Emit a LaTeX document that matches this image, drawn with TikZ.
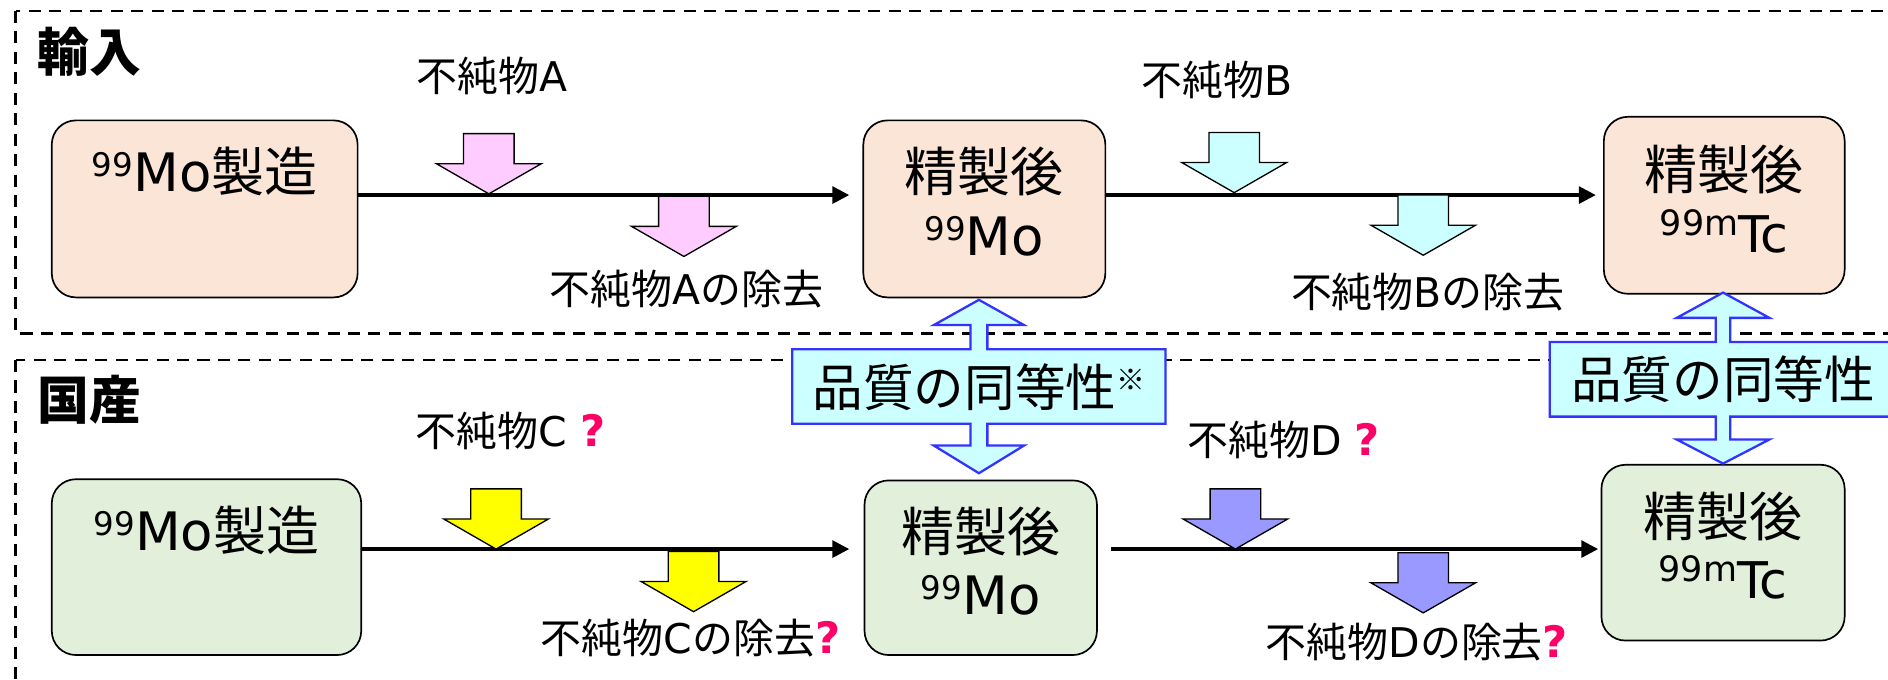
\documentclass[tikz,border=0pt]{standalone}
\usepackage{fontspec}
\setmainfont{DejaVu Sans}
\newfontfamily\cjk{Noto Sans CJK JP}
\usetikzlibrary{arrows.meta,calc}
\definecolor{peach}{HTML}{FBE5D6}
\definecolor{lgreen}{HTML}{E2EFDA}
\definecolor{apink}{HTML}{FFCCFF}
\definecolor{acyan}{HTML}{CCFFFF}
\definecolor{ayellow}{HTML}{FFFF00}
\definecolor{apurple}{HTML}{9999FF}
\definecolor{qblue}{HTML}{3333FF}
\definecolor{qred}{HTML}{FF0066}
\newcommand\iso[2]{\raisebox{#2}{\fontsize{27}{27}\selectfont #1}}
\newcommand\isom{\raisebox{14pt}{\fontsize{29}{29}\selectfont 99m}{\fontsize{42}{48}\selectfont Tc}}
\newcommand\qmk{{\fontsize{36}{40}\selectfont\bfseries\color{qred}?}}
\newcommand\blk[2]{\draw[blockarr, fill=#2] (#1) -- ++(43.5,-25) -- ++(-22.5,0) -- ++(0,-25) -- ++(-42,0) -- ++(0,25) -- ++(-22.5,0) -- cycle;}
\begin{document}
\begin{tikzpicture}[x=1pt,y=-1pt,
 proc/.style={draw=black, line width=1.4pt, rounded corners=20pt, inner sep=0pt, anchor=center},
 boxtxt/.style={anchor=base, inner sep=0pt, font=\fontsize{44}{50}\selectfont},
 lbl/.style={anchor=base west, inner sep=0pt, font=\fontsize{34}{40}\selectfont},
 hdr/.style={anchor=base west, inner sep=0pt, font=\fontsize{43}{48}\selectfont\cjk\bfseries},
 flow/.style={line width=2.7pt, -{Triangle[length=14pt,width=14pt]}},
 blockarr/.style={draw=black, line width=1.1pt, line join=miter},
 dashbox/.style={draw=black, line width=2.1pt, dash pattern=on 10pt off 7pt},
 eqarr/.style={draw=qblue, fill=acyan, line width=1.9pt, line join=miter},
 eqtxt/.style={anchor=base, inner sep=0pt, font=\fontsize{42}{48}\selectfont\cjk}]
\useasboundingbox (0,0) rectangle (1568,564);
\clip (0,0) rectangle (1568,564);
\fill[white] (0,0) rectangle (1568,564);

% section frames
\draw[dashbox] (13,9) rectangle (1600,277);
\draw[dashbox] (13,299) rectangle (1600,620);
\node[hdr] (h1) at (31,59) {輸入};
\node[hdr] (h2) at (31,348) {国産};

% boxes
\node[proc, fill=peach, minimum width=254pt, minimum height=147pt] (A1) at (170,173.5) {};
\node[proc, fill=peach, minimum width=201pt, minimum height=147pt] (A2) at (817.5,173.5) {};
\node[proc, fill=peach, minimum width=200pt, minimum height=147pt] (A3) at (1432,170.5) {};
\node[proc, fill=lgreen, minimum width=257pt, minimum height=146pt] (B1) at (171.5,471) {};
\node[proc, fill=lgreen, minimum width=193pt, minimum height=145pt] (B2) at (814.5,471.5) {};
\node[proc, fill=lgreen, minimum width=202pt, minimum height=146pt] (B3) at (1431,459) {};

\node[boxtxt] (A1t) at ([yshift=-60pt]A1.north) {\iso{99}{12.4pt}Mo{\cjk 製造}};
\node[boxtxt] (A2t) at ([yshift=-60pt]A2.north) {\cjk 精製後};
\node[boxtxt] (A2u) at ([yshift=-113pt]A2.north) {\iso{99}{12.4pt}Mo};
\node[boxtxt] (A3t) at ([yshift=-61pt]A3.north) {\cjk 精製後};
\node[boxtxt] (A3u) at ([yshift=-113pt]A3.north) {\isom};
\node[boxtxt] (B1t) at ([yshift=-60pt]B1.north) {\iso{99}{12.4pt}Mo{\cjk 製造}};
\node[boxtxt] (B2t) at ([yshift=-60pt]B2.north) {\cjk 精製後};
\node[boxtxt] (B2u) at ([yshift=-112pt]B2.north) {\iso{99}{12.4pt}Mo};
\node[boxtxt] (B3t) at ([yshift=-60pt]B3.north) {\cjk 精製後};
\node[boxtxt] (B3u) at ([yshift=-112pt]B3.north) {\isom};

% flow lines
\coordinate (ly1) at (0,162);
\coordinate (ly2) at (0,456);
\draw[flow, shorten >=11pt] (A1.east |- ly1) -- (A2.west |- ly1);
\draw[flow, shorten >=6pt] (A2.east |- ly1) -- (A3.west |- ly1);
\draw[flow, shorten >=12pt] (B1.east |- ly2) -- (B2.west |- ly2);
\draw[flow, shorten <=11pt, shorten >=2pt] (B2.east |- ly2) -- (B3.west |- ly2);

% block arrows
\coordinate (pa1) at (406,161);
\coordinate (pa2) at (568,213);
\coordinate (pb1) at (1025,160);
\coordinate (pb2) at (1182,212);
\coordinate (pc1) at (412,456);
\coordinate (pc2) at (576,508);
\coordinate (pd1) at (1026,456);
\coordinate (pd2) at (1182,509);
\blk{pa1}{apink}
\blk{pa2}{apink}
\blk{pb1}{acyan}
\blk{pb2}{acyan}
\blk{pc1}{ayellow}
\blk{pc2}{ayellow}
\blk{pd1}{apurple}
\blk{pd2}{apurple}

% labels
\node[lbl] (la1) at (346,76) {{\cjk 不純物}A};
\node[lbl] (la2) at (456,253) {{\cjk 不純物}A{\cjk の除去}};
\node[lbl] (lb1) at (948,79) {{\cjk 不純物}B};
\node[lbl] (lb2) at (1072,255) {{\cjk 不純物}B{\cjk の除去}};
\node[lbl] (lc1) at (345,371) {{\cjk 不純物}C \qmk};
\node[lbl] (lc2) at (449,543) {{\cjk 不純物}C{\cjk の除去}\qmk};
\node[lbl] (ld1) at (986,378) {{\cjk 不純物}D \qmk};
\node[lbl] (ld2) at (1051,546) {{\cjk 不純物}D{\cjk の除去}\qmk};

% equivalence arrows
\draw[eqarr] (813,249) -- (850.5,270) -- (820,270) -- (820,290) -- (968,290) -- (968,352) -- (820,352) -- (820,370) -- (850.5,370) -- (813,393) -- (775.5,370) -- (806,370) -- (806,352) -- (658,352) -- (658,290) -- (806,290) -- (806,270) -- (775.5,270) -- cycle;
\node[eqtxt] (q1) at (813,338) {品質の同等性\raisebox{14pt}{\fontsize{24}{24}\selectfont ※}};
\draw[eqarr] (1431,243) -- (1469.5,264) -- (1437,264) -- (1437,284) -- (1600,284) -- (1600,346) -- (1437,346) -- (1437,365) -- (1469.5,365) -- (1431,385) -- (1392.5,365) -- (1425,365) -- (1425,346) -- (1287,346) -- (1287,284) -- (1425,284) -- (1425,264) -- (1392.5,264) -- cycle;
\node[eqtxt] (q2) at (1431,331) {品質の同等性};
\end{tikzpicture}
\end{document}
